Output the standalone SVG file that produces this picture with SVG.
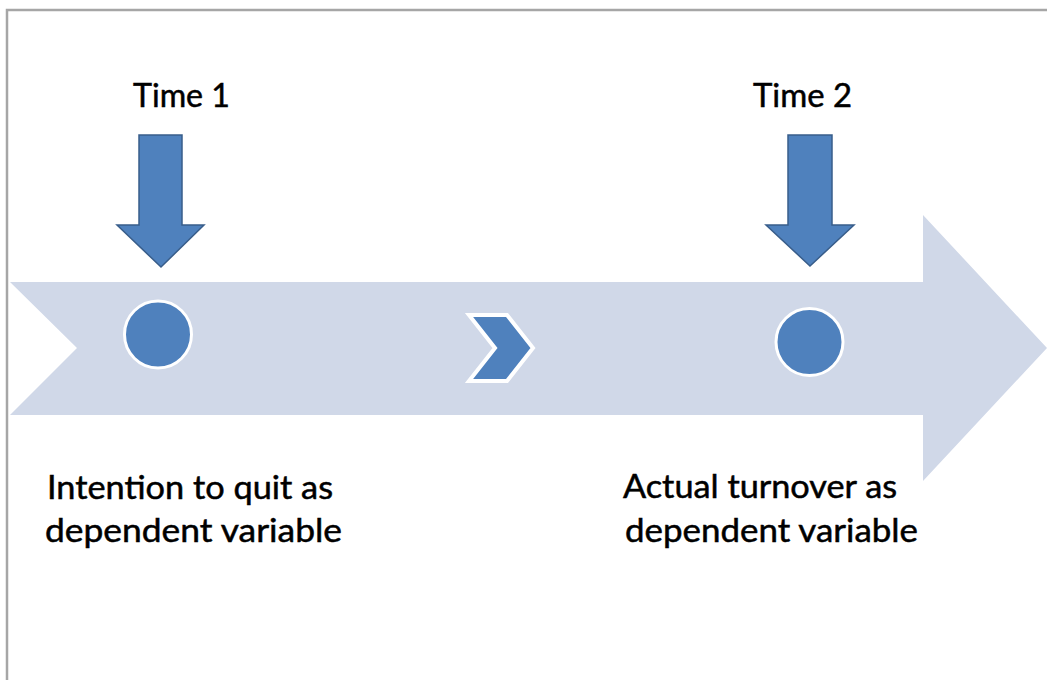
<svg xmlns="http://www.w3.org/2000/svg" width="1047" height="680" viewBox="0 0 1047 680">
  <style>
    .lbl { font-family: Lato, "Open Sans", "Liberation Sans", sans-serif; font-size: 32px; fill: #000; stroke: #000; stroke-width: 0.5; }
    .down { fill: #4F81BD; stroke: #385D8A; stroke-width: 1.5; stroke-linejoin: miter; }
    .dot { fill: #4F81BD; stroke: #FFFFFF; stroke-width: 3; }
  </style>
  <rect width="1047" height="680" fill="#FFFFFF"/>
  <g id="frame" fill="none" stroke="#A6A6A6" stroke-width="2.5">
    <path d="M7,680 V10 H1047"/>
  </g>
  <g id="timeline">
    <polygon points="10,282 923,282 923,215 1047,348 923,481 923,415 10,415 77,348" fill="#D0D8E8"/>
  </g>
  <g id="chevron">
    <polygon points="469,315 507,315 533,348 507,381 469,381 495,348" fill="#4F81BD" stroke="#FFFFFF" stroke-width="4" stroke-linejoin="miter"/>
  </g>
  <g id="connectors">
    <polygon class="down" points="139,135 182,135 182,225 204,225 161,267 117,225 139,225"/>
    <polygon class="down" points="788,135 832,135 832,225 854,225 810,266 766,225 788,225"/>
  </g>
  <g id="time1">
    <text class="lbl" x="133" y="107" textLength="97" lengthAdjust="spacingAndGlyphs">Time 1</text>
    <circle class="dot" cx="158" cy="334.5" r="33.5"/>
  </g>
  <g id="time2">
    <text class="lbl" x="753" y="107" textLength="99" lengthAdjust="spacingAndGlyphs">Time 2</text>
    <circle class="dot" cx="809.5" cy="342" r="33.5"/>
  </g>
  <g id="label1">
    <text class="lbl" x="47" y="499" textLength="286" lengthAdjust="spacingAndGlyphs">Intention to quit as</text>
    <text class="lbl" x="45" y="542" textLength="297" lengthAdjust="spacingAndGlyphs">dependent variable</text>
  </g>
  <g id="label2">
    <text class="lbl" x="623" y="498" textLength="274" lengthAdjust="spacingAndGlyphs">Actual turnover as</text>
    <text class="lbl" x="625" y="542" textLength="293" lengthAdjust="spacingAndGlyphs">dependent variable</text>
  </g>
</svg>
